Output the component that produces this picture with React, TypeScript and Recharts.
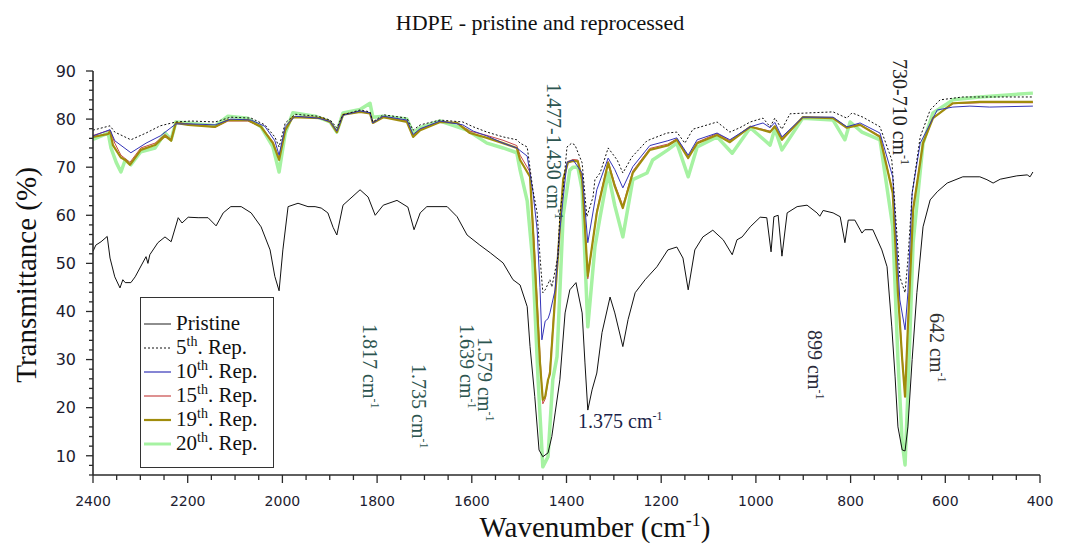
import React from 'react'
import { LineChart, Line, XAxis, YAxis } from 'recharts'

// [wavenumber (cm-1), transmittance (%)]
type Pt = [number, number]

const pristine: Pt[] = [
  [2400, 52.5], [2394, 53.8], [2383, 54.5], [2370, 55.6], [2364, 51.1], [2354, 47.2],
  [2343, 44.9], [2337, 46.6], [2332, 46], [2320, 46], [2311, 47.2], [2288, 51.4],
  [2284, 50], [2280, 51.8], [2263, 54.3], [2248, 55.5], [2235, 54.5], [2220, 59.5],
  [2212, 58.4], [2199, 59.6], [2178, 59.5], [2157, 59.5], [2140, 57.8], [2125, 60.5],
  [2109, 61.8], [2087, 61.8], [2066, 60.5], [2045, 57.6], [2026, 52.8], [2016, 47.3],
  [2007, 44.3], [1999, 52.8], [1988, 61.8], [1967, 62.5], [1946, 61.8], [1931, 61.8],
  [1918, 61.5], [1904, 60.5], [1893, 57.5], [1885, 55.9], [1872, 62.1], [1836, 65.3],
  [1819, 63.8], [1804, 60], [1787, 62.1], [1758, 63.1], [1735, 61.7], [1722, 57],
  [1709, 60.5], [1695, 61.8], [1652, 61.8], [1631, 59.7], [1610, 55.9], [1583, 53.8],
  [1561, 52.2], [1534, 50.1], [1513, 46.6], [1498, 45.5], [1483, 41], [1477, 32.7],
  [1467, 22.3], [1458, 11.2], [1450, 9.8], [1439, 10.6], [1431, 14], [1424, 18.9],
  [1414, 25.8], [1403, 39.7], [1393, 44.5], [1380, 46], [1367, 39.7], [1361, 29.3],
  [1355, 19.5], [1346, 23.7], [1336, 27.2], [1325, 35.6], [1308, 43], [1298, 39.7],
  [1281, 32.7], [1270, 38.3], [1255, 43.9], [1234, 46.6], [1209, 49.3], [1186, 52.8],
  [1167, 53.4], [1154, 51.1], [1143, 44.5], [1129, 52.8], [1112, 55.5], [1091, 56.9],
  [1069, 54.9], [1050, 51.8], [1040, 54.9], [1029, 55.5], [1012, 57.6], [991, 59.6],
  [977, 59.5], [968, 52.4], [962, 59.7], [953, 60], [945, 51.5], [934, 60.5],
  [913, 61.8], [892, 62.1], [871, 60.5], [865, 59.8], [858, 61], [837, 60.5],
  [822, 59.7], [812, 54.3], [805, 59], [791, 59], [776, 56.3], [770, 57],
  [753, 57], [734, 52.8], [723, 49.3], [713, 36.8], [706, 26.4], [700, 16],
  [691, 11.2], [685, 11], [679, 16], [670, 30], [660, 43.9], [647, 57.6],
  [632, 63.2], [617, 64.9], [596, 66.7], [563, 68], [527, 68], [512, 67.4],
  [499, 66.7], [484, 67.5], [449, 68.2], [427, 68.4], [421, 68], [415, 69],
]

const rep5: Pt[] = [
  [2400, 77.7], [2364, 78.6], [2354, 77.3], [2320, 75.7], [2288, 77.1], [2258, 78.6],
  [2225, 79.4], [2193, 79.6], [2142, 79.4], [2109, 80.4], [2066, 80.2], [2037, 78.8],
  [2016, 76.3], [2007, 74.2], [1994, 79.2], [1973, 81], [1925, 80.6], [1899, 79.8],
  [1885, 78.2], [1872, 80.9], [1836, 81.9], [1815, 81.5], [1809, 79.4], [1787, 80.9],
  [1737, 80.2], [1724, 77.7], [1709, 78.8], [1667, 79.8], [1619, 79.4], [1597, 78.4],
  [1568, 77.3], [1534, 76.3], [1505, 75.7], [1498, 75], [1483, 74.2], [1471, 65.3],
  [1462, 60.5], [1456, 51.4], [1450, 43.9], [1445, 44.5], [1435, 46.6], [1431, 45.1],
  [1418, 51.4], [1414, 60.5], [1407, 65.3], [1399, 74.2], [1389, 75], [1382, 74.6],
  [1367, 70.9], [1357, 59.7], [1344, 63.8], [1340, 67.4], [1329, 68.8], [1312, 74],
  [1293, 71.5], [1281, 68.8], [1262, 72.1], [1230, 75.5], [1188, 77.1], [1167, 77.3],
  [1150, 75], [1133, 77.9], [1082, 79.4], [1055, 77.3], [1034, 78.2], [1012, 79.4],
  [985, 80.2], [970, 78.4], [960, 80.2], [945, 77.9], [928, 81.1], [886, 81.3],
  [837, 81.5], [808, 80.2], [797, 81.3], [774, 80.4], [738, 78.4], [713, 71.5],
  [696, 47.2], [685, 43.9], [679, 50.7], [670, 64.6], [653, 76.3], [632, 81.9],
  [611, 84], [563, 84.6], [491, 84.6], [415, 84.6],
]

const rep10: Pt[] = [
  [2400, 76.5], [2364, 77.8], [2354, 75.5], [2320, 73], [2288, 75], [2258, 76.5],
  [2225, 79], [2193, 79], [2142, 78.8], [2109, 80], [2066, 79.8], [2037, 78.5],
  [2016, 75.5], [2007, 72.5], [1994, 78.5], [1973, 80.6], [1925, 80.2], [1899, 79.5],
  [1885, 77.5], [1872, 80.8], [1836, 81.7], [1815, 81.3], [1809, 79.2], [1787, 80.6],
  [1737, 79.8], [1724, 76.8], [1709, 78], [1667, 79.6], [1619, 78.8], [1597, 77.5],
  [1568, 76.5], [1534, 75], [1505, 74], [1483, 72.3], [1471, 65], [1462, 57],
  [1456, 45], [1452, 34.1], [1445, 38], [1439, 38.5], [1435, 39.7], [1424, 44.5],
  [1414, 57], [1399, 71], [1386, 71.5], [1367, 68.8], [1355, 54.3], [1336, 65.3],
  [1312, 71.9], [1298, 69.5], [1281, 65.7], [1260, 70.1], [1224, 74.5], [1186, 75.5],
  [1167, 76.1], [1143, 72.5], [1124, 75.7], [1082, 77.1], [1055, 75.7], [1012, 78.4],
  [985, 79.2], [970, 78.2], [960, 79.3], [945, 76.3], [901, 80.4], [837, 80.4],
  [808, 78.4], [780, 79.2], [738, 77.1], [711, 68], [696, 42.4], [685, 36.2],
  [679, 43.9], [670, 64.6], [653, 75], [617, 81.9], [584, 82.5], [548, 82.7],
  [506, 82.5], [415, 82.7],
]

const rep15: Pt[] = [
  [2400, 76.6], [2364, 77.7], [2354, 75], [2341, 72.5], [2322, 71], [2299, 74],
  [2269, 75], [2248, 76.8], [2235, 75.8], [2225, 79.3], [2199, 79], [2142, 78.3],
  [2115, 79.6], [2073, 79.6], [2045, 78.4], [2020, 75.3], [2007, 71.8], [1994, 77.9],
  [1978, 80.5], [1918, 80.3], [1899, 79.5], [1885, 77.5], [1872, 80.9], [1836, 81.6],
  [1815, 81.3], [1809, 79.3], [1787, 80.5], [1737, 79.6], [1724, 76.5], [1709, 77.9],
  [1667, 79.5], [1631, 79.2], [1604, 77.5], [1568, 76.6], [1534, 75.6], [1505, 74.5],
  [1498, 72.5], [1477, 69], [1467, 52], [1456, 31], [1450, 20.8], [1445, 21.8],
  [1439, 25.5], [1435, 28], [1424, 44], [1407, 67.8], [1397, 71.2], [1386, 71.6],
  [1376, 71.5], [1367, 67.8], [1355, 46.8], [1336, 61], [1312, 71.2], [1298, 66.5],
  [1281, 62], [1260, 69.2], [1224, 73.9], [1186, 74.8], [1167, 75.9], [1143, 72.2],
  [1124, 75.2], [1082, 77], [1055, 75.5], [1012, 78.5], [970, 77.5], [960, 78.6],
  [945, 76], [901, 80.4], [837, 80.3], [808, 78.3], [780, 78.9], [738, 76.5],
  [711, 65], [700, 44.5], [691, 30.5], [685, 23], [679, 37], [668, 61.5],
  [647, 75.2], [626, 80.3], [584, 83.2], [527, 83.4], [415, 83.4],
]

const rep19: Pt[] = [
  [2400, 76.3], [2368, 76.9], [2364, 77.5], [2358, 74.6], [2341, 72], [2332, 71.5],
  [2322, 70.5], [2299, 73.6], [2269, 74.6], [2248, 76.5], [2235, 75.5], [2225, 79.2],
  [2199, 78.8], [2142, 78.4], [2115, 79.8], [2073, 79.8], [2045, 78.4], [2020, 75],
  [2007, 71.5], [1994, 77.7], [1978, 80.4], [1918, 80.2], [1899, 79.4], [1885, 77.3],
  [1872, 80.9], [1836, 81.5], [1815, 81.2], [1809, 79.2], [1787, 80.4], [1737, 79.4],
  [1724, 76.3], [1709, 77.7], [1667, 79.4], [1631, 79.2], [1604, 77.1], [1568, 76.1],
  [1534, 75], [1505, 74], [1498, 71.5], [1477, 68], [1467, 50.1], [1456, 29.3],
  [1450, 21.6], [1445, 22.3], [1439, 25.8], [1435, 27], [1424, 43], [1407, 67.4],
  [1397, 71], [1386, 71.3], [1376, 71.2], [1367, 67.4], [1355, 47.4], [1336, 60.5],
  [1312, 70.9], [1298, 66], [1281, 61.5], [1260, 68.8], [1224, 73.6], [1186, 74.5],
  [1167, 75.7], [1143, 71.9], [1124, 75], [1082, 76.7], [1055, 75.2], [1012, 78.4],
  [970, 77.3], [960, 78.5], [945, 75.7], [901, 80.4], [837, 80.2], [808, 78.2],
  [780, 78.8], [738, 76.3], [711, 64.6], [700, 43.9], [691, 30], [685, 22.3],
  [679, 36.8], [668, 61.1], [647, 75], [626, 80.2], [584, 83.3], [527, 83.6],
  [415, 83.6],
]

const rep20: Pt[] = [
  [2400, 75.8], [2368, 77.1], [2362, 74], [2351, 71], [2341, 69], [2332, 71.5],
  [2320, 70.5], [2299, 73.2], [2269, 74], [2248, 77.1], [2235, 75.7], [2225, 79.4],
  [2199, 79.2], [2142, 78.6], [2115, 80.6], [2073, 80.2], [2045, 78.4], [2020, 74.2],
  [2007, 69], [1994, 77.1], [1978, 81.3], [1931, 80.6], [1899, 79.4], [1885, 77.3],
  [1872, 81.3], [1836, 82], [1815, 83.3], [1809, 80.4], [1787, 80.6], [1737, 80],
  [1724, 77.1], [1709, 78.2], [1667, 79.6], [1610, 77.7], [1568, 75], [1534, 74],
  [1505, 73], [1498, 69.4], [1483, 63], [1471, 50.1], [1460, 25.8], [1450, 7.7],
  [1439, 9.8], [1429, 25.8], [1420, 30.6], [1407, 60], [1393, 69.4], [1386, 70],
  [1376, 70], [1367, 65.3], [1355, 36.8], [1340, 53.4], [1329, 59.7], [1312, 68.8],
  [1298, 62], [1281, 55.5], [1260, 67.4], [1230, 68.8], [1218, 71.5], [1186, 73.6],
  [1167, 75], [1143, 68], [1124, 74.2], [1082, 76.3], [1050, 72.9], [1012, 78.2],
  [970, 74.6], [960, 78], [945, 73.6], [901, 80.2], [837, 79.8], [812, 75.7],
  [801, 79.4], [776, 77.3], [738, 75.7], [711, 57.6], [700, 30], [691, 12.7],
  [685, 8.1], [679, 23.1], [668, 54.3], [647, 75], [626, 81.3], [584, 84],
  [527, 84.6], [415, 85.4],
]

const xMajorTicks = [2400, 2200, 2000, 1800, 1600, 1400, 1200, 1000, 800, 600, 400]
const yMajorTicks = [10, 20, 30, 40, 50, 60, 70, 80, 90]
const xTicks = Array.from({ length: 41 }, (_, i) => 400 + i * 50)
const yTicks = Array.from({ length: 43 }, (_, i) => 6 + i * 2)

const SERIF = '"Liberation Serif", "Times New Roman", serif'
const SANS = '"DejaVu Sans", Verdana, sans-serif'
const AXIS = '#2a2a2a'

const toRows = (pts: Pt[]) => pts.map(([wn, t]) => ({ wn, t }))

// drawn bottom to top: light green underneath, pristine on top
const series = [
  { key: '20', data: rep20, color: '#a6f2a2', width: 3.5 },
  { key: '15', data: rep15, color: '#c84848', width: 1 },
  { key: '19', data: rep19, color: '#a08c0c', width: 2.2 },
  { key: '10', data: rep10, color: '#3434b8', width: 1 },
  { key: '5', data: rep5, color: '#111111', width: 1, dash: '2 2' },
  { key: 'p', data: pristine, color: '#111111', width: 1 },
]

const legendItems = [
  { label: 'Pristine', color: '#444', width: 1.2 },
  { label: '5', sup: 'th', color: '#111', width: 1, dash: '2 2' },
  { label: '10', sup: 'th', color: '#3434b8', width: 1.2 },
  { label: '15', sup: 'th', color: '#c84848', width: 1.2 },
  { label: '19', sup: 'th', color: '#a08c0c', width: 2.2 },
  { label: '20', sup: 'th', color: '#a6f2a2', width: 3 },
]

// rotated peak labels: [text, baseline x, top y, colour]
const peakLabels: [string, number, number, string][] = [
  ['1.817 cm', 363, 324, '#2d5550'],
  ['1.735 cm', 412, 364, '#2d5550'],
  ['1.639 cm', 460, 324, '#2d5550'],
  ['1.579 cm', 478, 337, '#2d5550'],
  ['1.477-1.430 cm', 547, 83, '#2d5550'],
  ['899 cm', 808, 330, '#2a2a3a'],
  ['730-710 cm', 893, 59, '#222'],
  ['642 cm', 930, 313, '#333'],
]

function XTick({ x, y, payload }: any) {
  const v = payload.value
  const major = v % 200 === 0
  return (
    <g>
      <line x1={x} x2={x} y1={y} y2={y + (major ? 8 : 5)} stroke={AXIS} strokeWidth={1.3} />
      {major && (
        <text x={x} y={y + 31} textAnchor="middle" fontSize={14} fontFamily={SANS} fill="#1c1c30">
          {v}
        </text>
      )}
    </g>
  )
}

function YTick({ x, y, payload }: any) {
  const v = payload.value
  const major = v % 10 === 0
  return (
    <g>
      <line x1={x - (major ? 7 : 4)} x2={x} y1={y} y2={y} stroke={AXIS} strokeWidth={1.3} />
      {major && (
        <text x={x - 17} y={y} dy="0.36em" textAnchor="end" fontSize={16} fontFamily={SANS} fill="#1c1c30">
          {v}
        </text>
      )}
    </g>
  )
}

function Overlay() {
  return (
    <svg
      width={1072}
      height={544}
      style={{ position: 'absolute', left: 0, top: 0, pointerEvents: 'none' }}
      fontFamily={SERIF}
    >
      <text x={540} y={30} textAnchor="middle" fontSize={22} fill="#111">
        HDPE - pristine and reprocessed
      </text>

      <text transform="translate(36, 275) rotate(-90)" textAnchor="middle" fontSize={29} fill="#111">
        Transmittance (%)
      </text>
      <text x={595} y={537} textAnchor="middle" fontSize={29} fill="#111">
        Wavenumber (cm<tspan dy={-11} fontSize={18}>-1</tspan><tspan dy={11}>)</tspan>
      </text>

      {peakLabels.map(([t, x, y, c]) => (
        <text key={t} transform={`translate(${x}, ${y}) rotate(90)`} fontSize={20} fill={c}>
          {t}
          <tspan dy={-8} fontSize={12}>-1</tspan>
        </text>
      ))}
      <text x={578} y={428} fontSize={20} fill="#1a1f4a">
        1.375 cm<tspan dy={-8} fontSize={12}>-1</tspan>
      </text>

      <rect x={140.5} y={297.5} width={133} height={170} fill="#fff" stroke="#333" strokeWidth={1} />
      {legendItems.map((it, i) => {
        const base = 330 + i * 24
        return (
          <g key={it.label}>
            <line
              x1={144}
              x2={171}
              y1={base - 6}
              y2={base - 6}
              stroke={it.color}
              strokeWidth={it.width}
              strokeDasharray={it.dash}
            />
            <text x={176} y={base} fontSize={21} fill="#111">
              {it.label}
              {it.sup && (
                <>
                  <tspan dy={-8} fontSize={14}>{it.sup}</tspan>
                  <tspan dy={8}>. Rep.</tspan>
                </>
              )}
            </text>
          </g>
        )
      })}
    </svg>
  )
}

export default function App() {
  return (
    <div style={{ position: 'absolute', left: 0, top: 0, width: 1072, height: 544, background: '#fff' }}>
      <LineChart width={1072} height={544} margin={{ top: 71, right: 32, bottom: 29, left: 33 }}>
        <XAxis
          dataKey="wn"
          type="number"
          domain={[400, 2400]}
          reversed
          ticks={xTicks}
          interval={0}
          tick={<XTick />}
          tickLine={false}
          tickSize={0}
          tickMargin={0}
          height={40}
          axisLine={{ stroke: AXIS, strokeWidth: 1.6 }}
          allowDuplicatedCategory={false}
        />
        <YAxis
          dataKey="t"
          type="number"
          domain={[6, 90]}
          ticks={yTicks}
          interval={0}
          tick={<YTick />}
          tickLine={false}
          tickSize={0}
          tickMargin={0}
          width={60}
          axisLine={{ stroke: AXIS, strokeWidth: 1.6 }}
          allowDataOverflow
        />
        {series.map((s) => (
          <Line
            key={s.key}
            data={toRows(s.data)}
            dataKey="t"
            type="linear"
            stroke={s.color}
            strokeWidth={s.width}
            strokeDasharray={s.dash}
            strokeLinejoin="round"
            dot={false}
            activeDot={false}
            isAnimationActive={false}
          />
        ))}
      </LineChart>
      <Overlay />
    </div>
  )
}
